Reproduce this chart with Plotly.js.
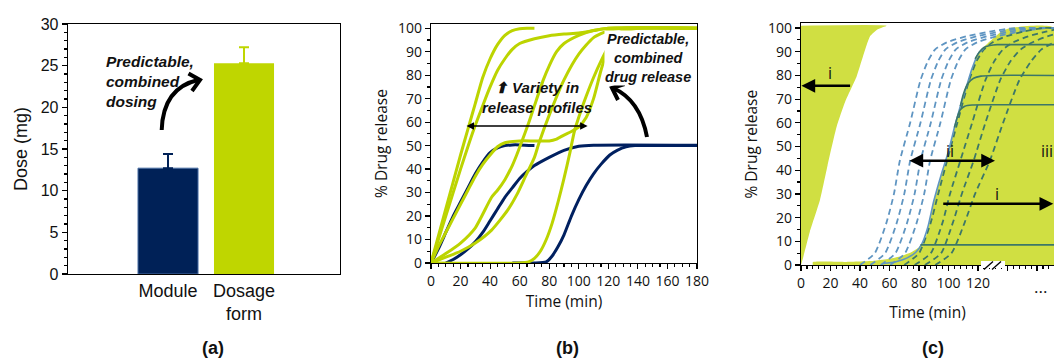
<!DOCTYPE html>
<html><head><meta charset="utf-8">
<script src="https://cdn.plot.ly/plotly-3.0.1.min.js"></script>
<style>html,body{margin:0;padding:0;background:#fff;}#chart{width:1054px;height:363px;}</style>
</head><body><div id="chart"></div>
<script>
// ---------- Panel (a) data ----------
const barCategories = ["Module", "Dosage<br>form"];
const doseValues = [12.7, 25.3];
const doseErrors = [1.7, 1.9];
const barColors = ["#002157", "#bfd600"];

// ---------- Panel (b) data: module (navy) release curves ----------
const n1Time = [0, 5, 10, 15, 20, 25, 30, 35, 40, 45, 50, 55, 60, 70];
const n1Release = [0, 6, 13, 20, 26, 32, 38, 43, 47, 49, 50, 50.3, 50.3, 50];
const n2Time = [10, 15, 20, 25, 30, 35, 40, 45, 50, 55, 60, 65, 70, 80, 90, 100, 110, 180];
const n2Release = [0, 1.5, 3.5, 6, 9, 13, 18, 23, 28, 32, 36, 39, 41.5, 45, 48, 49.7, 50.2, 50.2];
const n3Time = [55, 70, 78, 82, 86, 90, 95, 100, 105, 110, 115, 121, 126, 132, 138, 180];
const n3Release = [0, 0, 0.5, 3, 7, 12, 20, 27, 33, 38, 42, 46, 48, 49.5, 50, 50];
// dosage form (green) release curves
const gaTime = [0, 10, 20, 25, 30, 35, 40, 45, 50, 55, 60, 65, 70];
const gaRelease = [0, 23, 46, 57, 68, 79, 87, 93, 97, 99, 99.8, 100, 100];
const gbTime = [0, 10, 20, 29, 35, 40, 45, 50, 55, 60, 70, 80, 90, 100, 110, 120, 180];
const gbRelease = [0, 20, 40, 57, 67, 75, 82, 87, 91, 93.5, 95.5, 96.8, 97.5, 98, 99, 100, 100];
const gcTime = [0, 5, 10, 15, 20, 25, 30, 35, 40, 45, 50, 60, 70, 80, 85, 90, 95, 100, 105, 110, 115, 120, 125, 130, 140, 180];
const gcRelease = [0, 7, 13, 19, 25, 31, 37, 42, 46, 49.5, 51.2, 52, 52, 52, 52.8, 54.5, 56, 58, 62, 70, 82, 92, 97, 99, 100, 100];
const gdTime = [0, 10, 20, 30, 41, 45, 50, 55, 58, 61, 66, 70, 76, 80, 85, 90, 100, 110, 120, 180];
const gdRelease = [0, 4, 8.5, 15, 28, 31, 35.5, 41.5, 46, 51, 59.5, 67, 78, 84, 90, 93.5, 97, 99, 100, 100];
const geTime = [0, 10, 20, 30, 41, 52, 58, 64, 70, 73, 80, 90, 100, 110, 120, 130, 180];
const geRelease = [0, 2.5, 5, 8.5, 14, 22.6, 29, 37, 45, 51, 63, 78, 89, 96, 99, 100, 100];
const gfTime = [0, 60, 66, 70, 74, 78, 82, 86, 90, 94, 97, 101, 105, 110, 115, 120, 125, 130, 140, 180];
const gfRelease = [0, 0, 0.5, 2, 5, 10, 17, 26, 36, 47, 56, 64, 71, 79, 86, 92, 96, 98.5, 100, 100];

// ---------- Panel (c) data ----------
const leftBandTime = [0, 1.6, 6, 12.9, 18, 24.2, 30, 37.7, 42, 46.8, 52, 58, 0];
const leftBandRelease = [0, 3.5, 14, 27.5, 42, 58.4, 69, 79.6, 88, 96.5, 99.5, 101, 101];
const rightBandTime = [8, 8, 30, 50, 60, 68, 75, 80, 84, 87, 90, 95, 100, 104, 108, 112, 116, 120, 124, 130, 136, 142, 171.5, 171.5];
const rightBandRelease = [0, 1.2, 1.3, 1.8, 2.6, 3.8, 5.5, 7.5, 10.5, 18, 27, 38, 48, 58, 67, 75, 83, 89, 92, 95.5, 98.5, 100, 100, 0];
const dashedLevels = [0, 5, 18, 30, 44, 60, 78, 86, 91, 94, 96.5, 98.5, 100, 100];
const d1Time = [40, 50, 58, 63, 67, 74, 81, 86, 91, 99, 112, 128, 145, 171.5];
const d2Time = [47, 57, 65, 70, 74, 81, 88, 93, 98, 106, 119, 135, 152, 171.5];
const d3Time = [54, 64, 72, 77, 81, 88, 95, 100, 105, 113, 126, 142, 159, 171.5];
const d4Time = [60.5, 70.5, 78.5, 83.5, 87.5, 94.5, 101.5, 106.5, 111.5, 119.5, 132.5, 148.5, 165.5, 171.5];
const d5Time = [70, 80, 88, 93, 99, 106, 114, 119, 124, 130, 139, 151, 164, 171.5];
const d6Time = [77, 88, 96, 101, 108, 116, 125, 131, 137, 144, 154, 166, 177, 177];
const d7Time = [84, 95, 103, 109, 117, 125, 135, 142, 149, 157, 167, 179, 188, 188];
const d8Time = [91, 102, 111, 118, 128, 137, 148, 156, 163, 172, 182, 194, 205, 205];
const sRiseTime = [55, 65, 72, 78, 82, 86, 90, 95, 100, 104, 108, 112, 116, 120, 124];
const sRiseRelease = [0.5, 1.5, 3, 5.5, 9, 16, 27, 38, 48, 58, 67, 75, 83, 89, 91.5];
const sTopTime = [118, 121, 124, 128, 133, 140, 171.5];
const sTopRelease = [87, 90, 91.8, 92.6, 93, 93, 93];
const s80Time = [108, 110, 113, 117, 122, 130, 171.5];
const s80Release = [67, 72, 76.5, 78.8, 79.7, 80, 80];
const s67Time = [104, 106, 108, 111, 116, 125, 171.5];
const s67Release = [58, 62.5, 65.5, 67, 67.5, 67.6, 67.6];
const s8Time = [81, 171.5];
const s8Release = [8.5, 8.5];
const cTickVals = [0, 20, 40, 60, 80, 100, 120, 140, 160];
const cTickText = ["0", "20", "40", "60", "80", "100", "120", "", ""];

// ---------- styling ----------
const W = 1054, H = 363;
const NAVY = "#002060", LIME = "#bcd400", FILL = "#d0df42", BLUE = "#5f95c2", TEAL = "#3c7768";
const ARIAL = "Liberation Sans, Arial, sans-serif";
const CAL = "Open Sans, Noto Sans, sans-serif";
const px = (x) => x / W;
const py = (y) => 1 - y / H;
const pt = (x, y) => px(x).toFixed(5) + "," + py(y).toFixed(5);

const traces = [];
// panel (a) bars
barCategories.forEach((c, i) => {
  traces.push({
    type: "bar", x: [i], y: [doseValues[i]], width: 0.79,
    marker: { color: barColors[i], line: { width: i === 0 ? 1 : 0, color: "#4a6fa5" } },
    error_y: { type: "data", array: [doseErrors[i]], arrayminus: [0], symmetric: false,
               color: barColors[i], thickness: 2, width: 5 },
    xaxis: "x", yaxis: "y", hoverinfo: "skip"
  });
});
// panel (b)
const line2 = (x, y, color) => ({ type: "scatter", mode: "lines", x: x, y: y, xaxis: "x2", yaxis: "y2",
  line: { color: color, width: 3, shape: "spline", smoothing: 0.6 }, hoverinfo: "skip" });
traces.push(line2(n1Time, n1Release, NAVY));
traces.push(line2(n2Time, n2Release, NAVY));
traces.push(line2(n3Time, n3Release, NAVY));
traces.push(line2(gaTime, gaRelease, LIME));
traces.push(line2(gbTime, gbRelease, LIME));
traces.push(line2(gcTime, gcRelease, LIME));
traces.push(line2(gdTime, gdRelease, LIME));
traces.push(line2(geTime, geRelease, LIME));
traces.push(line2(gfTime, gfRelease, LIME));
// panel (c)
const fill3 = (x, y) => ({ type: "scatter", mode: "lines", x: x, y: y, xaxis: "x3", yaxis: "y3",
  fill: "toself", fillcolor: FILL, line: { width: 0, color: FILL, shape: "spline", smoothing: 0.5 }, hoverinfo: "skip" });
traces.push(fill3(leftBandTime, leftBandRelease));
traces.push(fill3(rightBandTime, rightBandRelease));
const dash3 = (x, color) => ({ type: "scatter", mode: "lines", x: x, y: dashedLevels, xaxis: "x3", yaxis: "y3",
  line: { color: color, width: 1.8, dash: "6px,4px", shape: "spline", smoothing: 0.6 }, hoverinfo: "skip" });
[d1Time, d2Time, d3Time, d4Time].forEach(t => traces.push(dash3(t, BLUE)));
[d5Time, d6Time, d7Time, d8Time].forEach(t => traces.push(dash3(t, TEAL)));
const solid3 = (x, y, color) => ({ type: "scatter", mode: "lines", x: x, y: y, xaxis: "x3", yaxis: "y3",
  line: { color: color, width: 1.6, shape: "spline", smoothing: 0.6 }, hoverinfo: "skip" });
traces.push(solid3(sRiseTime, sRiseRelease, BLUE));
traces.push(solid3(sTopTime, sTopRelease, TEAL));
traces.push(solid3(s80Time, s80Release, TEAL));
traces.push(solid3(s67Time, s67Release, TEAL));
traces.push(solid3(s8Time, s8Release, TEAL));

const axCommon = { showgrid: false, zeroline: false, showline: true, linecolor: "#000", linewidth: 1.3,
  tickcolor: "#000", ticks: "outside", ticklen: 5, tickwidth: 1.2 };

const layout = {
  width: W, height: H, margin: { l: 0, r: 0, t: 0, b: 0 },
  paper_bgcolor: "#fff", plot_bgcolor: "rgba(0,0,0,0)",
  showlegend: false, barmode: "overlay", hovermode: false,
  xaxis: Object.assign({}, axCommon, {
    domain: [px(68), px(340)], range: [-1.316, 2.263], anchor: "y", mirror: true,
    tickmode: "array", tickvals: barCategories.map((c, i) => i), ticktext: barCategories,
    ticks: "", tickfont: { family: ARIAL, size: 18, color: "#111" }
  }),
  yaxis: Object.assign({}, axCommon, {
    domain: [py(274), py(24)], range: [0, 30], anchor: "x", mirror: true,
    dtick: 5, tick0: 0, minor: { dtick: 1, ticks: "outside", ticklen: 3, tickcolor: "#000" },
    tickfont: { family: ARIAL, size: 16, color: "#111" },
    title: { text: "Dose (mg)", font: { family: ARIAL, size: 18, color: "#111" }, standoff: 8 }
  }),
  xaxis2: Object.assign({}, axCommon, {
    domain: [px(431), px(697)], range: [0, 180], anchor: "y2", mirror: true,
    dtick: 20, tick0: 0, minor: { dtick: 5, ticks: "outside", ticklen: 3, tickcolor: "#000" },
    tickfont: { family: CAL, size: 14, color: "#111" },
    title: { text: "Time (min)", font: { family: CAL, size: 15.5, color: "#111" }, standoff: 4 }
  }),
  yaxis2: Object.assign({}, axCommon, {
    domain: [py(263), py(24)], range: [0, 101.8], anchor: "x2", mirror: true,
    dtick: 10, tick0: 0, minor: { dtick: 5, ticks: "outside", ticklen: 3, tickcolor: "#000" },
    tickfont: { family: CAL, size: 14, color: "#111" },
    title: { text: "% Drug release", font: { family: CAL, size: 15.5, color: "#111" }, standoff: 6 }
  }),
  xaxis3: Object.assign({}, axCommon, {
    domain: [px(801), 1], range: [0, 171.5], anchor: "y3", mirror: true,
    tickmode: "array", tickvals: cTickVals, ticktext: cTickText,
    minor: { dtick: 4, ticks: "outside", ticklen: 3, tickcolor: "#000" },
    tickfont: { family: CAL, size: 14, color: "#111" },
    title: { text: "Time (min)", font: { family: CAL, size: 15.5, color: "#111" }, standoff: 16 }
  }),
  yaxis3: Object.assign({}, axCommon, {
    domain: [py(265), py(23.3)], range: [0, 102], anchor: "x3",
    dtick: 10, tick0: 0, minor: { dtick: 5, ticks: "outside", ticklen: 3, tickcolor: "#000" },
    tickfont: { family: CAL, size: 14, color: "#111" },
    title: { text: "% Drug release", font: { family: CAL, size: 15.5, color: "#111" }, standoff: 6 }
  }),
  shapes: [
    // panel (a) curved arrow
    { type: "path", xref: "paper", yref: "paper", path: "M" + pt(161.7, 130) + " Q" + pt(163, 88) + " " + pt(198, 80),
      line: { color: "#000", width: 4 } },
    { type: "path", xref: "paper", yref: "paper", path: "M" + pt(188.5, 73.5) + " L" + pt(200, 80) + " L" + pt(192, 91),
      line: { color: "#000", width: 4 } },
    // panel (b) curved arrow
    { type: "path", xref: "paper", yref: "paper", path: "M" + pt(647, 137) + " Q" + pt(640, 100) + " " + pt(613, 88),
      line: { color: "#000", width: 4 } },
    { type: "path", xref: "paper", yref: "paper", path: "M" + pt(624.5, 84) + " L" + pt(612, 88) + " L" + pt(618, 100),
      line: { color: "#000", width: 4 } },
    // panel (c) axis break
    { type: "rect", xref: "paper", yref: "paper", x0: px(981), x1: px(1005), y0: py(268), y1: py(261),
      fillcolor: "#fff", line: { width: 0 }, layer: "above" },
    { type: "line", xref: "paper", yref: "paper", x0: px(984), y0: py(269.5), x1: px(993), y1: py(261.5),
      line: { color: "#000", width: 1.3 }, layer: "above" },
    { type: "line", xref: "paper", yref: "paper", x0: px(992), y0: py(269.5), x1: px(1001), y1: py(261.5),
      line: { color: "#000", width: 1.3 }, layer: "above" }
  ],
  annotations: [
    { xref: "paper", yref: "paper", x: px(104), y: py(81.5), xanchor: "left", yanchor: "middle", align: "left",
      showarrow: false, text: "<b><i>Predictable,<br>combined<br>dosing</i></b>",
      font: { family: ARIAL, size: 15.5, color: "#111" } },
    { xref: "paper", yref: "paper", x: px(213), y: py(348), xanchor: "center", yanchor: "middle", showarrow: false,
      text: "<b>(a)</b>", font: { family: ARIAL, size: 18, color: "#111" } },
    { xref: "paper", yref: "paper", x: px(567), y: py(348), xanchor: "center", yanchor: "middle", showarrow: false,
      text: "<b>(b)</b>", font: { family: ARIAL, size: 18, color: "#111" } },
    { xref: "paper", yref: "paper", x: px(933), y: py(348), xanchor: "center", yanchor: "middle", showarrow: false,
      text: "<b>(c)</b>", font: { family: ARIAL, size: 18, color: "#111" } },
    // panel (b)
    { xref: "x2", yref: "y2", x: 106, y: 58.4, axref: "x2", ayref: "y2", ax: 23, ay: 58.4, text: "",
      showarrow: true, arrowside: "end+start", arrowhead: 2, arrowsize: 1, arrowwidth: 1.5, arrowcolor: "#000" },
    { xref: "paper", yref: "paper", x: px(537), y: py(97.5), xanchor: "center", yanchor: "middle", align: "center",
      showarrow: false, text: "<b><i>\u2B06 Variety in<br>release profiles</i></b>",
      font: { family: ARIAL, size: 15, color: "#111" } },
    { xref: "paper", yref: "paper", x: px(648), y: py(58), xanchor: "center", yanchor: "middle", align: "center",
      showarrow: false, bgcolor: "#fff", borderpad: 0, text: "<b><i>Predictable,<br>combined<br>drug release</i></b>",
      font: { family: ARIAL, size: 14.5, color: "#111" } },
    // panel (c)
    { xref: "x3", yref: "y3", x: 0.3, y: 75.6, axref: "x3", ayref: "y3", ax: 34.3, ay: 75.6, text: "",
      showarrow: true, arrowhead: 2, arrowsize: 1.1, arrowwidth: 2.5, arrowcolor: "#000" },
    { xref: "x3", yref: "y3", x: 131.5, y: 44, axref: "x3", ayref: "y3", ax: 72.5, ay: 44, text: "",
      showarrow: true, arrowside: "end+start", arrowhead: 2, arrowsize: 1.1, arrowwidth: 2.5, arrowcolor: "#000" },
    { xref: "x3", yref: "y3", x: 171, y: 25.8, axref: "x3", ayref: "y3", ax: 95.4, ay: 25.8, text: "",
      showarrow: true, arrowhead: 2, arrowsize: 1.1, arrowwidth: 2.5, arrowcolor: "#000" },
    { xref: "x3", yref: "y3", x: 19.7, y: 81, showarrow: false, text: "i", font: { family: CAL, size: 16, color: "#111" } },
    { xref: "x3", yref: "y3", x: 101, y: 48, showarrow: false, text: "ii", font: { family: CAL, size: 16, color: "#111" } },
    { xref: "x3", yref: "y3", x: 132.7, y: 29.8, showarrow: false, text: "i", font: { family: CAL, size: 16, color: "#111" } },
    { xref: "x3", yref: "y3", x: 166.5, y: 48, showarrow: false, text: "iii", font: { family: CAL, size: 16, color: "#111" } },
    { xref: "paper", yref: "paper", x: px(1040), y: py(286), xanchor: "center", yanchor: "middle", showarrow: false,
      text: "...", font: { family: CAL, size: 17, color: "#111" } }
  ]
};

Plotly.newPlot("chart", traces, layout, { staticPlot: true, displayModeBar: false });
</script>
</body></html>
